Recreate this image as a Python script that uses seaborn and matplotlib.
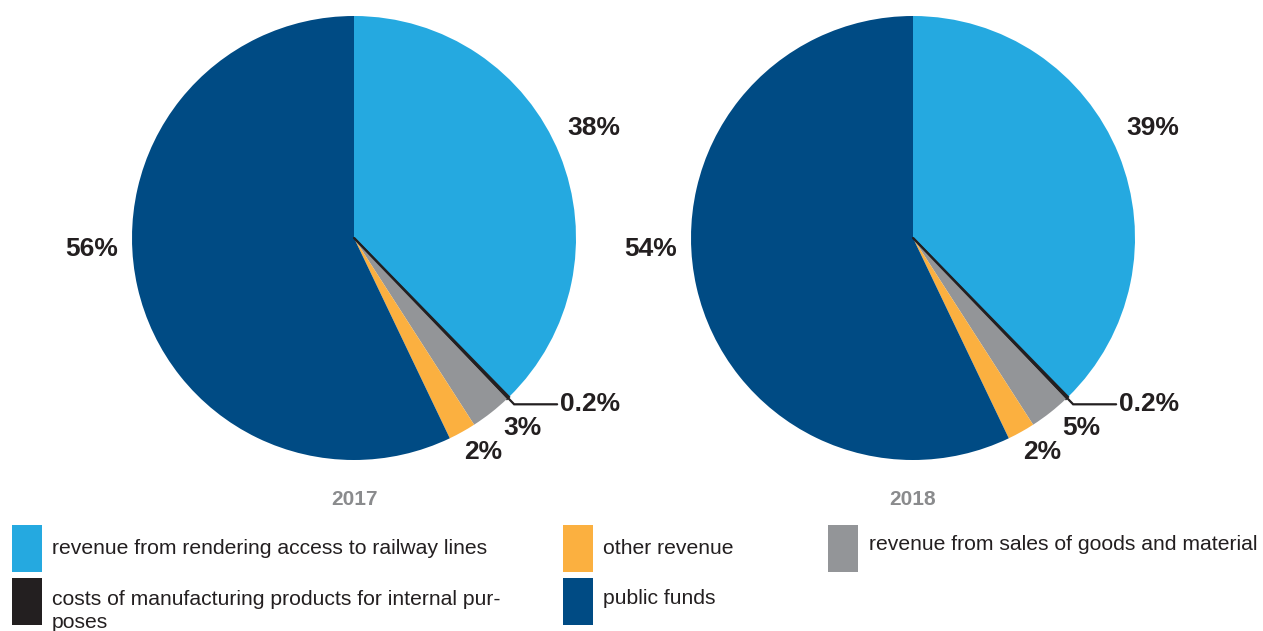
import numpy as np
import matplotlib
matplotlib.use("Agg")
import matplotlib.pyplot as plt
from matplotlib.patches import Rectangle
import seaborn as sns

sns.set_theme(style="white")
plt.rcParams['font.family'] = ['Liberation Sans', 'DejaVu Sans']

# data
categories = ["revenue from rendering access to railway lines",
              "costs of manufacturing products for internal pur-\nposes",
              "revenue from sales of goods and material",
              "other revenue",
              "public funds"]
colors = ["#25a9e0", "#231f20", "#939598", "#fbb040", "#004b84"]
years = ["2017", "2018"]
# slice sizes as drawn in the picture
shares_2017 = [37.7, 0.2, 3, 2, 57.1]
shares_2018 = [37.7, 0.2, 3, 2, 57.1]
labels_2017 = ["38%", "0.2%", "3%", "2%", "56%"]
labels_2018 = ["39%", "0.2%", "5%", "2%", "54%"]

# label positions (pie units), same for both pies
label_pos = [(1.08, 0.495), None, (0.757, -0.856), (0.581, -0.964), (-1.18, -0.05)]

W, H = 1263, 631
fig = plt.figure(figsize=(W / 100, H / 100), dpi=100)

R = 222
centers = [(354, 238), (913, 238)]


def draw_pie(cx, cy, shares, labels, year):
    ax = fig.add_axes([(cx - R) / W, (H - cy - R) / H, 2 * R / W, 2 * R / H])
    wedges, _ = ax.pie(shares, colors=colors, startangle=90, counterclock=False,
                       radius=1, wedgeprops=dict(linewidth=0))
    # thin black slice gets an outline
    wedges[1].set_edgecolor("#231f20")
    wedges[1].set_linewidth(1.6)
    ax.set_xlim(-1, 1)
    ax.set_ylim(-1, 1)
    ax.set_axis_off()
    for i, lab in enumerate(labels):
        if label_pos[i] is None:
            w = wedges[i]
            ang = np.deg2rad((w.theta1 + w.theta2) / 2)
            x1, y1 = 1.04 * np.cos(ang), 1.04 * np.sin(ang)
            ax.plot([0, x1, 0.915], [0, y1, y1], color="#231f20", lw=1.6,
                    clip_on=False, solid_joinstyle="miter")
            ax.text(0.93, y1, lab, ha="left", va="center", fontsize=19,
                    fontweight="bold", color="#231f20", clip_on=False)
        else:
            x, y = label_pos[i]
            ax.text(x, y, lab, ha="center", va="center", fontsize=19,
                    fontweight="bold", color="#231f20", clip_on=False)
    ax.text(0, -1.18, year, ha="center", va="center", fontsize=15,
            fontweight="bold", color="#8a8b8d", clip_on=False)


draw_pie(*centers[0], shares_2017, labels_2017, years[0])
draw_pie(*centers[1], shares_2018, labels_2018, years[1])

# legend (pixel coordinates)
lg = fig.add_axes([0, 0, 1, 1])
lg.set_xlim(0, W)
lg.set_ylim(H, 0)
lg.set_axis_off()
lg.patch.set_alpha(0)
legend_slots = [(12, 525, 52, 548), (12, 578, 52, 590), (828, 525, 869, 544),
                (563, 525, 603, 548), (563, 578, 603, 598)]
for cat, col, (sx, sy, tx, ty) in zip(categories, colors, legend_slots):
    lg.add_patch(Rectangle((sx, sy), 30, 47, color=col, lw=0))
    lg.text(tx, ty, cat, ha="left", va="center" if "\n" not in cat else "top",
            fontsize=15.2, color="#231f20", linespacing=1.25)

fig.savefig("out.png", dpi=100)
